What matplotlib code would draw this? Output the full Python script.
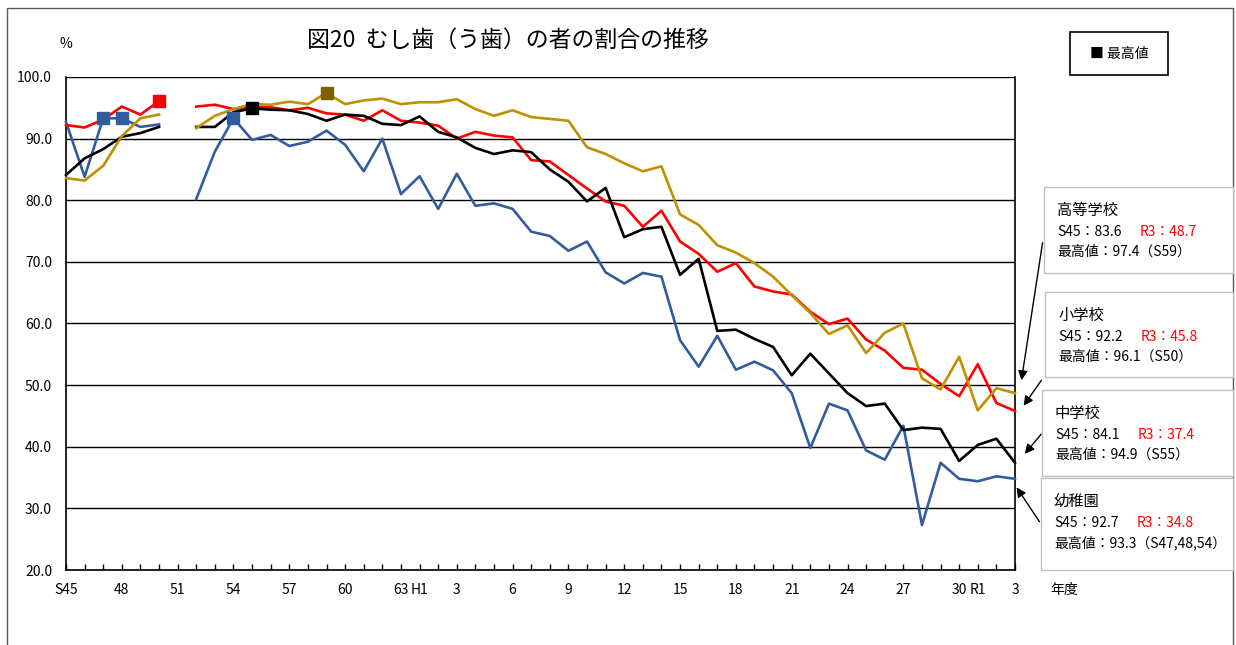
import numpy as np
import matplotlib
matplotlib.use("Agg")
import matplotlib.pyplot as plt
from matplotlib.patches import Rectangle

plt.rcParams['font.family'] = ['Noto Sans CJK JP', 'DejaVu Sans']

# S45 (1970) .. R3 (2021); S51 is missing for every series
year_labels = ["S45", "", "", "48", "", "", "51", "", "", "54", "", "", "57", "", "", "60",
               "", "", "63", "H1", "", "3", "", "", "6", "", "", "9", "", "", "12", "",
               "", "15", "", "", "18", "", "", "21", "", "", "24", "", "", "27", "", "",
               "30", "R1", "", "3"]

kinder = [92.7, 83.8, 93.3, 93.3, 91.9, 92.3, None, 80.2, 87.9, 93.3, 89.8, 90.6, 88.8,
          89.5, 91.3, 89.0, 84.7, 90.0, 81.0, 83.9, 78.6, 84.3, 79.1, 79.5, 78.6, 74.9,
          74.2, 71.8, 73.3, 68.3, 66.5, 68.2, 67.6, 57.3, 53.0, 58.0, 52.5, 53.8, 52.4,
          48.7, 39.8, 47.0, 45.9, 39.4, 37.9, 43.4, 27.3, 37.4, 34.8, 34.4, 35.2, 34.8]
elem = [92.2, 91.8, 93.1, 95.2, 93.9, 96.1, None, 95.2, 95.5, 94.8, 95.1, 95.1, 94.6,
        95.0, 94.1, 93.9, 92.9, 94.6, 92.9, 92.6, 92.1, 90.0, 91.1, 90.5, 90.2, 86.5,
        86.3, 84.1, 81.9, 79.8, 79.1, 75.7, 78.3, 73.3, 71.3, 68.4, 69.8, 66.0, 65.2,
        64.7, 61.9, 59.9, 60.8, 57.4, 55.6, 52.8, 52.5, 50.2, 48.2, 53.4, 47.1, 45.8]
junior = [84.1, 86.8, 88.3, 90.3, 90.9, 91.9, None, 91.9, 91.9, 94.3, 94.9, 94.7, 94.6,
          94.0, 92.9, 93.9, 93.7, 92.4, 92.2, 93.6, 91.1, 90.2, 88.5, 87.5, 88.1, 87.8,
          85.0, 83.0, 79.8, 82.0, 74.0, 75.3, 75.7, 67.9, 70.5, 58.8, 59.0, 57.5, 56.2,
          51.6, 55.1, 51.9, 48.7, 46.6, 47.0, 42.7, 43.1, 42.9, 37.7, 40.3, 41.3, 37.4]
high = [83.6, 83.2, 85.6, 90.4, 93.3, 93.9, None, 91.7, 93.7, 94.8, 95.6, 95.5, 96.0,
        95.6, 97.4, 95.6, 96.2, 96.5, 95.6, 95.9, 95.9, 96.4, 94.8, 93.7, 94.6, 93.5,
        93.2, 92.9, 88.6, 87.5, 86.0, 84.7, 85.5, 77.7, 76.0, 72.7, 71.5, 69.8, 67.6,
        64.6, 61.7, 58.3, 59.7, 55.2, 58.5, 60.0, 51.1, 49.3, 54.6, 45.9, 49.5, 48.7]

# year indices of the highest values
kinder_max = [2, 3, 9]
elem_max = [5]
junior_max = [10]
high_max = [14]

W, H = 1236, 645


def fp(x, y):
    return x / W, 1 - y / H


fig = plt.figure(figsize=(W / 100, H / 100), dpi=100)
ax = fig.add_axes([66 / W, 1 - 570 / H, (1015 - 66) / W, (570 - 77) / H])

x = np.arange(len(year_labels))
series = [
    (kinder, kinder_max, "#335C9E", "#335C9E"),
    (elem, elem_max, "#FF0000", "#FF0000"),
    (junior, junior_max, "black", "black"),
    (high, high_max, "#BF9000", "#7F6000"),
]
for vals, mx, col, mcol in series:
    v = np.array([np.nan if a is None else a for a in vals])
    ax.plot(x, v, color=col, lw=1.9, clip_on=False, zorder=3)
    ax.plot(x[mx], v[mx], "s", color=mcol, ms=8, clip_on=False, zorder=4)

ax.set_xlim(0, len(x) - 1)
ax.set_ylim(20, 100)
ax.set_yticks(np.arange(20, 101, 10))
ax.set_yticklabels([f"{t:.1f}" for t in np.arange(20, 101, 10)], fontsize=10)
ax.set_xticks(x)
ax.set_xticklabels(year_labels, fontsize=10)
ax.tick_params(axis="x", direction="in", length=4, width=1, pad=9)
ax.tick_params(axis="y", length=0, pad=10)
ax.grid(axis="y", color="black", lw=1)
for s in ax.spines.values():
    s.set_color("black")
    s.set_linewidth(1.2)
ax.spines["top"].set_visible(False)

# outer frame
fig.patches.append(Rectangle(fp(7, 660), (1233 - 7) / W, (660 - 8) / H,
                             transform=fig.transFigure, fill=False,
                             edgecolor="#595959", lw=1))

fig.text(*fp(508, 40), "図20  むし歯（う歯）の者の割合の推移", fontsize=16.5,
         ha="center", va="center")
fig.text(*fp(66, 44), "%", fontsize=10, ha="center", va="center")
fig.text(*fp(1050, 590), "年度", fontsize=10, ha="left", va="center")

# legend box
fig.patches.append(Rectangle(fp(1070, 75), 98 / W, 43 / H, transform=fig.transFigure,
                             fill=False, edgecolor="black", lw=1.2))
fig.text(*fp(1119, 54), "■ 最高値", fontsize=10, ha="center", va="center")

# note boxes: (left, top, right, bottom), title, S45, R3, max text, arrow start, arrow end
notes = [
    ((1044, 187, 1233, 273), "高等学校", "S45：83.6", "R3：48.7", "最高値：97.4（S59）",
     (1043, 240), (1021, 383)),
    ((1045, 292, 1233, 377), "小学校", "S45：92.2", "R3：45.8", "最高値：96.1（S50）",
     (1043, 378), (1022, 408)),
    ((1042, 390, 1233, 476), "中学校", "S45：84.1", "R3：37.4", "最高値：94.9（S55）",
     (1043, 432), (1023, 456)),
    ((1041, 478, 1233, 570), "幼稚園", "S45：92.7", "R3：34.8", "最高値：93.3（S47,48,54）",
     (1041, 524), (1015, 485)),
]
for (l, t, r, b), title, s45, r3, mx, a0, a1 in notes:
    fig.patches.append(Rectangle(fp(l, b), (r - l) / W, (b - t) / H,
                                 transform=fig.transFigure, facecolor="white",
                                 edgecolor="#BFBFBF", lw=1))
    fig.text(*fp(l + 13, t + 23), title, fontsize=11, ha="left", va="center")
    fig.text(*fp(l + 13, t + 45), s45, fontsize=10, ha="left", va="center")
    fig.text(*fp(l + 96, t + 45), r3, fontsize=10, ha="left", va="center", color="#FF0000")
    fig.text(*fp(l + 13, t + 65), mx, fontsize=10, ha="left", va="center")
    ax.annotate("", xy=fp(*a1), xycoords="figure fraction",
                xytext=fp(*a0), textcoords="figure fraction",
                arrowprops=dict(arrowstyle="-|>", color="black", lw=1,
                                mutation_scale=14), annotation_clip=False)

fig.savefig("out.png", dpi=100)
